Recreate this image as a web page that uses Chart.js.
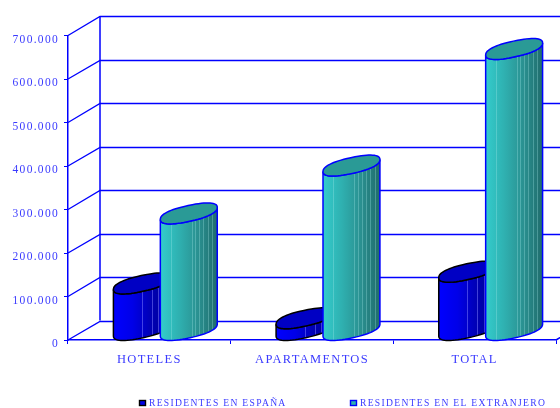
<!DOCTYPE html>
<html>
<head>
<meta charset="utf-8">
<style>
  html, body { margin: 0; padding: 0; background: #fff; }
  canvas { display: block; }
</style>
<script src="https://cdn.jsdelivr.net/npm/chart.js@4"></script>
</head>
<body>
<canvas id="chart" width="560" height="408"></canvas>
<script>
const categories = ["HOTELES", "APARTAMENTOS", "TOTAL"];
const residentesEspana = [107000, 27000, 134000];
const residentesExtranjero = [268000, 378000, 646000];
const yMax = 700000;
const yStep = 100000;

// depth of the fake 3d box
const DEPTH_X = 32;
const DEPTH_Y = 19.5;
const AXIS_BLUE = "#0000ff";
const TEXT_BLUE = "#3a3aff";

const looks = [
  {
    stops: ["#0000ff", "#0000e8", "#0000b4", "#000090"],
    top: "#0000c4",
    line: "#000000",
    stripe: "rgba(130,130,255,0.5)",
    bands: [0.5, 0.68, 0.79],
    legendX: 139,
  },
  {
    stops: ["#33cccc", "#2fb0b0", "#2a9090", "#206c6c"],
    top: "#2a9a96",
    line: "#0000ff",
    stripe: "rgba(170,235,235,0.3)",
    bands: [0.18, 0.55, 0.61, 0.68, 0.75, 0.83, 0.91],
    legendX: 350,
  },
];

// slightly squared-off ellipse, the caps in the picture are not true ellipses
function ellipsePoint(cx, cy, a, t) {
  const c = Math.cos(t);
  const s = Math.sin(t);
  const cp = Math.sign(c) * Math.pow(Math.abs(c), 0.85);
  const sp = Math.sign(s) * Math.pow(Math.abs(s), 0.85);
  return [cx + a * cp, cy - 6 * cp + 8 * sp];
}

function drawCylinder(ctx, bar, base, look) {
  const a = bar.width / 2;
  const cx = bar.x + DEPTH_X / 2;
  const topY = bar.y - 10;
  const baseY = base - 10;

  const body = new Path2D();
  let p = ellipsePoint(cx, topY, a, Math.PI);
  body.moveTo(p[0], p[1]);
  for (let t = Math.PI; t >= 0; t -= 0.1) {
    p = ellipsePoint(cx, baseY, a, t);
    body.lineTo(p[0], p[1]);
  }
  p = ellipsePoint(cx, baseY, a, 0);
  body.lineTo(p[0], p[1]);
  p = ellipsePoint(cx, topY, a, 0);
  body.lineTo(p[0], p[1]);
  for (let t = 0; t <= Math.PI; t += 0.1) {
    p = ellipsePoint(cx, topY, a, t);
    body.lineTo(p[0], p[1]);
  }
  body.closePath();

  const grad = ctx.createLinearGradient(cx - a, 0, cx + a, 0);
  look.stops.forEach((c, i) => grad.addColorStop(i / (look.stops.length - 1), c));
  ctx.fillStyle = grad;
  ctx.fill(body);

  // the light vertical bands on the shaded side
  ctx.save();
  ctx.clip(body);
  ctx.strokeStyle = look.stripe;
  ctx.lineWidth = 1;
  look.bands.forEach((f) => {
    const x = Math.round(cx - a + f * a * 2) + 0.5;
    ctx.beginPath();
    ctx.moveTo(x, topY - 12);
    ctx.lineTo(x, baseY + 12);
    ctx.stroke();
  });
  ctx.restore();

  ctx.strokeStyle = look.line;
  ctx.lineWidth = 1.5;
  ctx.stroke(body);

  const cap = new Path2D();
  for (let t = 0; t < Math.PI * 2; t += 0.1) {
    p = ellipsePoint(cx, topY, a, t);
    if (t === 0) cap.moveTo(p[0], p[1]);
    else cap.lineTo(p[0], p[1]);
  }
  cap.closePath();
  ctx.fillStyle = look.top;
  ctx.fill(cap);
  ctx.stroke(cap);
}

const box3d = {
  id: "box3d",
  beforeDraw(chart) {
    chart.ctx.letterSpacing = "1.3px";
  },
  beforeDatasetsDraw(chart) {
    const ctx = chart.ctx;
    const yScale = chart.scales.y;
    const area = chart.chartArea;
    ctx.save();
    ctx.strokeStyle = AXIS_BLUE;
    ctx.lineWidth = 1.3;
    yScale.ticks.forEach((tick) => {
      const y = yScale.getPixelForValue(tick.value);
      const backY = Math.round(y - DEPTH_Y) + 0.5;
      ctx.beginPath();
      ctx.moveTo(area.left, y);
      ctx.lineTo(area.left + DEPTH_X, backY);
      ctx.lineTo(area.right + DEPTH_X, backY);
      ctx.stroke();
    });
    const bottom = yScale.getPixelForValue(0);
    ctx.lineWidth = 1.5;
    ctx.beginPath();
    ctx.moveTo(area.left + DEPTH_X, yScale.getPixelForValue(yMax) - DEPTH_Y);
    ctx.lineTo(area.left + DEPTH_X, bottom - DEPTH_Y);
    ctx.moveTo(area.right, bottom);
    ctx.lineTo(area.right + DEPTH_X, bottom - DEPTH_Y);
    ctx.stroke();
    ctx.restore();
  },
  afterDatasetsDraw(chart) {
    const ctx = chart.ctx;
    const base = chart.scales.y.getPixelForValue(0);
    categories.forEach((c, i) => {
      chart.data.datasets.forEach((ds, d) => {
        drawCylinder(ctx, chart.getDatasetMeta(d).data[i], base, looks[d]);
      });
    });

    // legend
    ctx.save();
    ctx.font = "9.6px 'Liberation Serif'";
    ctx.textBaseline = "middle";
    chart.data.datasets.forEach((ds, d) => {
      const look = looks[d];
      ctx.fillStyle = look.stops[1];
      ctx.strokeStyle = look.line;
      ctx.lineWidth = 1.4;
      ctx.fillRect(look.legendX + 0.5, 400.5, 6, 5);
      ctx.strokeRect(look.legendX + 0.5, 400.5, 6, 5);
      ctx.fillStyle = TEXT_BLUE;
      ctx.fillText(ds.label, look.legendX + 10, 403.5);
    });
    ctx.restore();
  },
};

new Chart(document.getElementById("chart"), {
  type: "bar",
  data: {
    labels: categories,
    datasets: [
      { label: "RESIDENTES EN ESPAÑA", data: residentesEspana, backgroundColor: "rgba(0,0,0,0)" },
      { label: "RESIDENTES EN EL EXTRANJERO", data: residentesExtranjero, backgroundColor: "rgba(0,0,0,0)" },
    ],
  },
  options: {
    responsive: false,
    animation: false,
    categoryPercentage: 0.577,
    barPercentage: 1.213,
    layout: { padding: { top: 35.5, right: 4, left: 0, bottom: 0 } },
    plugins: { legend: { display: false }, tooltip: { enabled: false } },
    scales: {
      x: {
        afterFit(scale) { scale.height = 68; },
        grid: { drawOnChartArea: false, color: AXIS_BLUE, tickLength: 4, lineWidth: 1 },
        border: { color: AXIS_BLUE, width: 1.5 },
        ticks: {
          color: TEXT_BLUE,
          padding: 8,
          maxRotation: 0,
          autoSkip: false,
          font: { family: "'Liberation Serif'", size: 12.5 },
        },
      },
      y: {
        min: 0,
        max: yMax,
        afterFit(scale) { scale.width = 68; },
        grid: { drawOnChartArea: false, color: AXIS_BLUE, tickLength: 4, lineWidth: 1 },
        border: { color: AXIS_BLUE, width: 1.5 },
        ticks: {
          stepSize: yStep,
          color: TEXT_BLUE,
          padding: 5,
          labelOffset: 4,
          font: { family: "'Liberation Serif'", size: 11.5 },
          callback: (v) => (v === 0 ? "0" : (v / 1000) + ".000"),
        },
      },
    },
  },
  plugins: [box3d],
});
</script>
</body>
</html>
